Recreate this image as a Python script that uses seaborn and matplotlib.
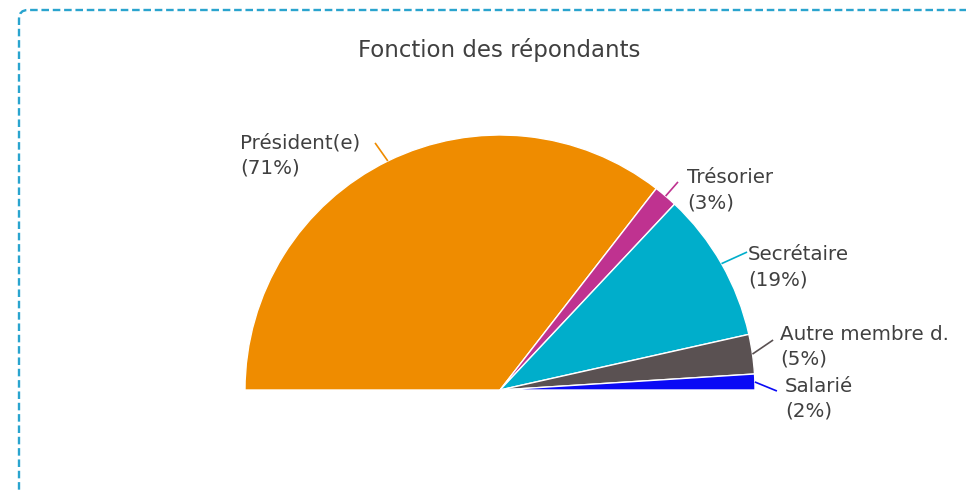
import numpy as np
import matplotlib
matplotlib.use("Agg")
import matplotlib.pyplot as plt
import seaborn as sns
from matplotlib.patches import FancyBboxPatch

# =============================
# DATA
# =============================
categories = ["Président(e)", "Trésorier", "Secrétaire", "Autre membre d.", "Salarié"]
percents = [71, 3, 19, 5, 2]
slice_colors = ["#EF8C00", "#BF3290", "#00AECB", "#5A5152", "#0A0AF5"]
title = "Fonction des répondants"

# label layout (data units, radius = 1): text anchor and leader end point
text_pos = [(-1.02, 0.918), (0.733, 0.784), (0.973, 0.482), (1.098, 0.169), (1.118, -0.035)]
leader_end = [(-0.49, 0.969), (0.698, 0.816), (0.969, 0.541), (1.071, 0.196), (1.086, -0.004)]

# =============================
# STYLE
# =============================
sns.set_theme(style="white")
plt.rcParams["font.family"] = ["DejaVu Sans"]
text_color = "#404040"

W, H, DPI = 966, 492, 100
R_PX = 255
CX, CY = 500, 390  # pie centre in pixels (from top-left)

fig = plt.figure(figsize=(W / DPI, H / DPI), dpi=DPI)
ax = fig.add_axes([0, 0, 1, 1])

# half pie: add a hidden slice equal to the total for the bottom half
vals = percents + [sum(percents)]
wedges, _ = ax.pie(vals, startangle=180, counterclock=False,
                   colors=sns.color_palette(slice_colors) + [(1, 1, 1)],
                   radius=1, center=(0, 0),
                   wedgeprops=dict(edgecolor="white", linewidth=1))
wedges[-1].set_visible(False)

for i, w in enumerate(wedges[:-1]):
    mid = np.deg2rad((w.theta1 + w.theta2) / 2)
    x0, y0 = np.cos(mid), np.sin(mid)
    ex, ey = leader_end[i]
    ax.plot([x0, ex], [y0, ey], color=slice_colors[i], lw=1.2, solid_capstyle="butt")
    tx, ty = text_pos[i]
    ax.text(tx, ty, f"{categories[i]}\n({percents[i]}%)", ha="left", va="center",
            fontsize=14.3, color=text_color, linespacing=1.4)

ax.set_xlim(-CX / R_PX, (W - CX) / R_PX)
ax.set_ylim(-(H - CY) / R_PX, CY / R_PX)
ax.set_aspect("auto")
ax.axis("off")

# dashed frame
x_left = (19 - CX) / R_PX
y_top = (CY - 10) / R_PX
frame = FancyBboxPatch((x_left, -1.0), 5.0, y_top + 1.0,
                       boxstyle="round,pad=0,rounding_size=0.035",
                       fill=False, edgecolor="#2AA4CE", linewidth=1.7,
                       linestyle=(0, (3.2, 1.6)), clip_on=False)
ax.add_patch(frame)

fig.text(499 / W, 1 - 50 / H, title, ha="center", va="center",
         fontsize=16.5, color=text_color)

fig.savefig("out.png", dpi=DPI)
